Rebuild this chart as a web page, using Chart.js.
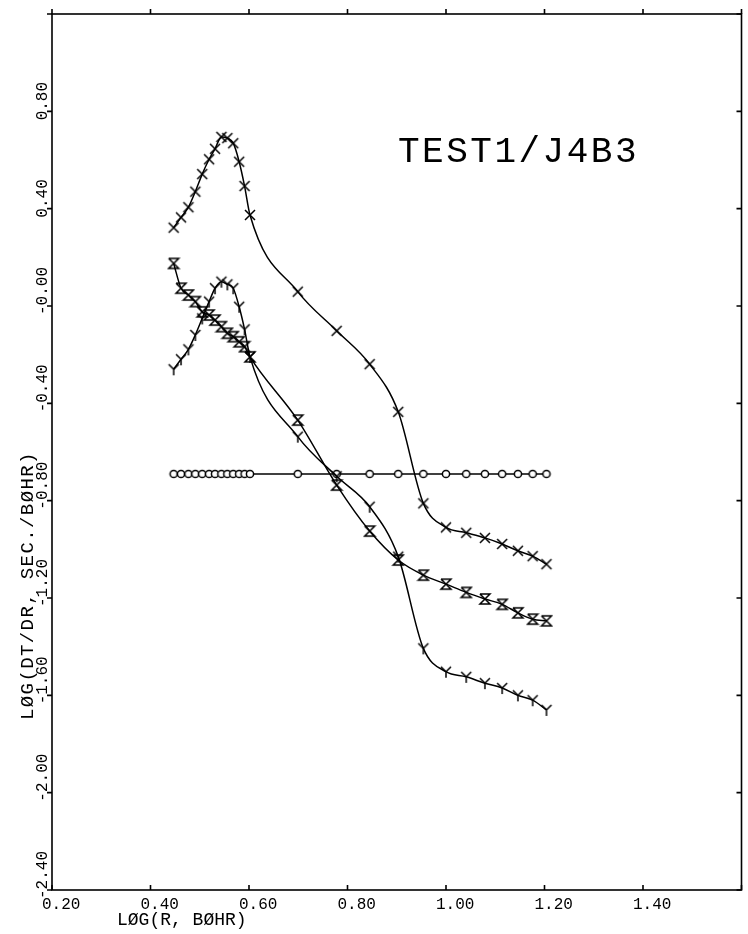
<!DOCTYPE html>
<html lang="en">

<head>
      <meta charset="UTF-8">
      <title>TEST1/J4B3</title>
      <script src="https://cdn.jsdelivr.net/npm/chart.js"></script>
      <style>
            body {
                  margin: 0;
                  background: #fff;
            }

            #wrap {
                  width: 748px;
                  height: 934px;
            }
      </style>
</head>

<body>
      <div id="wrap"><canvas id="chart" width="748" height="934"></canvas></div>

      <script>
            // log(R, bohr) values shared by the four curves
            const logR = [0.447, 0.462, 0.477, 0.491, 0.505, 0.519, 0.531, 0.544, 0.556, 0.568, 0.580, 0.591, 0.602,
                  0.699, 0.778, 0.845, 0.903, 0.954, 1.000, 1.041, 1.079, 1.114, 1.146, 1.176, 1.204];

            // log(dT/dR), one list per marker type
            const curveX = [0.322, 0.364, 0.406, 0.470, 0.542, 0.603, 0.646, 0.695, 0.690, 0.669, 0.593, 0.493, 0.374,
                  0.059, -0.102, -0.239, -0.435, -0.811, -0.910, -0.932, -0.953, -0.978, -1.006, -1.028, -1.061];
            const curveY = [-0.260, -0.219, -0.178, -0.119, -0.051, 0.018, 0.073, 0.100, 0.089, 0.073, -0.003, -0.096, -0.209,
                  -0.537, -0.700, -0.825, -1.030, -1.407, -1.503, -1.524, -1.550, -1.570, -1.600, -1.620, -1.660];
            const curveZ = [0.175, 0.073, 0.045, 0.018, -0.024, -0.037, -0.058, -0.085, -0.112, -0.126, -0.147, -0.167, -0.209,
                  -0.469, -0.736, -0.925, -1.044, -1.106, -1.143, -1.177, -1.204, -1.226, -1.261, -1.287, -1.294];
            const curveO = [-0.69, -0.69, -0.69, -0.69, -0.69, -0.69, -0.69, -0.69, -0.69, -0.69, -0.69, -0.69, -0.69,
                  -0.69, -0.69, -0.69, -0.69, -0.69, -0.69, -0.69, -0.69, -0.69, -0.69, -0.69, -0.69];

            // axes
            const xTicks = [0.2, 0.4, 0.6, 0.8, 1.0, 1.2, 1.4, 1.6];
            const xTickLabels = ['0.20', '0.40', '0.60', '0.80', '1.00', '1.20', '1.40'];
            const yTicks = [-2.4, -2.0, -1.6, -1.2, -0.8, -0.4, 0, 0.4, 0.8, 1.2];
            const yTickLabels = ['-2.40', '-2.00', '-1.60', '-1.20', '-0.80', '-0.40', '-0.00', '0.40', '0.80'];
            const xTitle = 'LØG(R, BØHR)';
            const yTitle = 'LØG(DT/DR, SEC./BØHR)';
            const plotLabel = 'TEST1/J4B3';

            const FONT = '"Liberation Mono", "DejaVu Sans Mono", monospace';

            // plotter style markers drawn on small canvases
            function marker(kind) {
                  let c = document.createElement('canvas');
                  c.width = 14;
                  c.height = 14;
                  let g = c.getContext('2d');
                  g.strokeStyle = '#000';
                  g.lineWidth = 1.5;
                  g.beginPath();
                  if (kind === 'x') {
                        g.moveTo(2, 2); g.lineTo(12, 12);
                        g.moveTo(12, 2); g.lineTo(2, 12);
                  } else if (kind === 'y') {
                        g.moveTo(7, 7); g.lineTo(7, 13);
                        g.moveTo(7, 7); g.lineTo(2, 2);
                        g.moveTo(7, 7); g.lineTo(12, 2);
                  } else if (kind === 'z') {
                        g.moveTo(2, 2); g.lineTo(12, 2);
                        g.lineTo(2, 12); g.lineTo(12, 12);
                        g.lineTo(2, 2);
                  } else {
                        g.fillStyle = '#fff';
                        g.arc(7, 7, 3.6, 0, Math.PI * 2);
                        g.fill();
                  }
                  g.stroke();
                  return c;
            }

            function pts(vals) {
                  return logR.map(function (x, i) { return { x: x, y: vals[i] }; });
            }

            function curve(vals, kind) {
                  return {
                        data: pts(vals),
                        borderColor: '#000',
                        borderWidth: 1.5,
                        pointStyle: marker(kind),
                        pointRadius: 5,
                        cubicInterpolationMode: 'monotone',
                        fill: false
                  };
            }

            // frame, ticks and all the text in the plotter lettering
            const plotterFrame = {
                  id: 'plotterFrame',
                  afterDraw: function (chart) {
                        let ctx = chart.ctx;
                        let a = chart.chartArea;
                        let xs = chart.scales.x;
                        let ys = chart.scales.y;
                        ctx.save();
                        ctx.strokeStyle = '#000';
                        ctx.lineWidth = 1.6;
                        ctx.strokeRect(a.left, a.top, a.right - a.left, a.bottom - a.top);

                        ctx.beginPath();
                        xTicks.forEach(function (v) {
                              let px = xs.getPixelForValue(v);
                              ctx.moveTo(px, a.bottom); ctx.lineTo(px, a.bottom - 5);
                              ctx.moveTo(px, a.top); ctx.lineTo(px, a.top - 5);
                        });
                        yTicks.forEach(function (v) {
                              let py = ys.getPixelForValue(v);
                              ctx.moveTo(a.left - 5, py); ctx.lineTo(a.left, py);
                              ctx.moveTo(a.right, py); ctx.lineTo(a.right - 5, py);
                        });
                        ctx.stroke();

                        ctx.fillStyle = '#000';
                        ctx.font = '16px ' + FONT;
                        ctx.textAlign = 'left';
                        ctx.textBaseline = 'top';
                        xTickLabels.forEach(function (t, i) {
                              ctx.fillText(t, xs.getPixelForValue(xTicks[i]) - 10, a.bottom + 7);
                        });
                        ctx.textBaseline = 'alphabetic';
                        yTickLabels.forEach(function (t, i) {
                              ctx.save();
                              ctx.translate(a.left - 5, ys.getPixelForValue(yTicks[i]) + 9);
                              ctx.rotate(-Math.PI / 2);
                              ctx.fillText(t, 0, 0);
                              ctx.restore();
                        });

                        // axis titles
                        ctx.font = '18px ' + FONT;
                        ctx.fillText(xTitle, a.left + 65, a.bottom + 35);
                        ctx.save();
                        ctx.translate(a.left - 19, a.top + 706);
                        ctx.rotate(-Math.PI / 2);
                        ctx.font = '19px ' + FONT;
                        ctx.letterSpacing = '1.4px';
                        ctx.fillText(yTitle, 0, 0);
                        ctx.restore();

                        // run label
                        ctx.font = '36px ' + FONT;
                        ctx.letterSpacing = '2.5px';
                        ctx.fillText(plotLabel, a.left + 346, a.top + 148);
                        ctx.restore();
                  }
            };

            const hidden = {
                  display: true,
                  ticks: { display: false },
                  grid: { display: false, drawTicks: false },
                  border: { display: false }
            };

            let chart = new Chart(document.getElementById('chart').getContext('2d'), {
                  type: 'line',
                  data: {
                        datasets: [
                              curve(curveX, 'x'),
                              curve(curveY, 'y'),
                              curve(curveZ, 'z'),
                              curve(curveO, 'o')
                        ]
                  },
                  options: {
                        responsive: false,
                        animation: false,
                        events: [],
                        layout: { padding: { left: 52, right: 6, top: 14, bottom: 44 } },
                        scales: {
                              x: Object.assign({ type: 'linear', min: 0.2, max: 1.6 }, hidden),
                              y: Object.assign({ type: 'linear', min: -2.4, max: 1.2 }, hidden)
                        },
                        plugins: {
                              legend: { display: false },
                              tooltip: { enabled: false }
                        }
                  },
                  plugins: [plotterFrame]
            });
      </script>
</body>

</html>
